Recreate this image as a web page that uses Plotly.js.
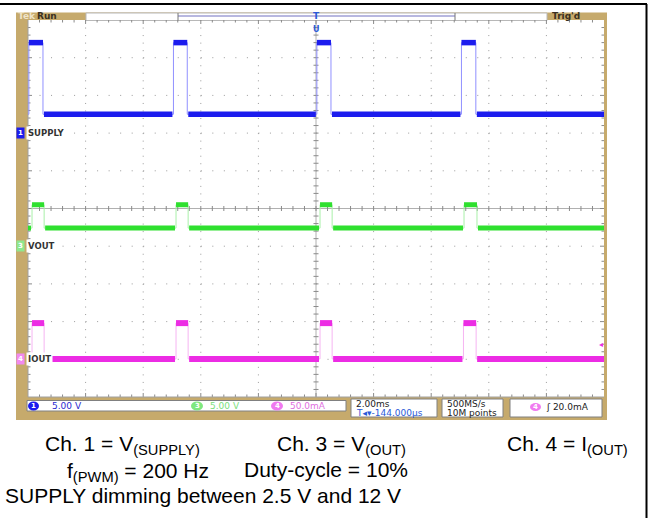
<!DOCTYPE html>
<html><head><meta charset="utf-8">
<script src="https://cdn.plot.ly/plotly-3.0.1.min.js"></script>
<style>html,body{margin:0;padding:0;background:#fff}#chart{width:650px;height:518px}</style>
</head><body><div id="chart"></div>
<script>
// ---------- data ----------
const timeRangeMs = [-10, 10];               // 2.00 ms/div, 10 divisions
const ch1RiseMs = [-9.97, -4.95, 0.03, 5.05];
const ch1FallMs = [-9.48, -4.47, 0.52, 5.55];
const ch1HighV = 12.0;
const ch1LowV = 2.5;
const ch3RiseMs = [-9.86, -4.86, 0.14, 5.14];
const ch3FallMs = [-9.44, -4.44, 0.56, 5.59];
const ch3HighV = 5.5;
const ch3LowV = 2.4;
const ch4RiseMs = [-9.86, -4.86, 0.14, 5.12];
const ch4FallMs = [-9.44, -4.44, 0.56, 5.56];
const ch4HighmA = 48;
const ch4LowmA = 0.5;
const channelNames = ['SUPPLY', 'VOUT', 'IOUT'];
const channelNums = ['1', '3', '4'];
const scaleTexts = ['5.00 V', '5.00 V', '50.0mA'];
const timebaseText = '2.00ms';
const delayText = 'T\u25C2\u25BE-144.000\u00B5s';
const sampleTexts = ['500MS/s', '10M points'];
const triggerText = '\u0283 20.0mA';
const captionLine1 = ['Ch. 1 = V<sub>(SUPPLY)</sub>', 'Ch. 3 = V<sub>(OUT)</sub>', 'Ch. 4 = I<sub>(OUT)</sub>'];
const captionLine2 = ['f<sub>(PWM)</sub> = 200 Hz', 'Duty-cycle = 10%'];
const captionLine3 = 'SUPPLY dimming between 2.5 V and 12 V';

// ---------- helpers ----------
const W = 650, H = 518;
const L = 28, R = 604, T = 20, B = 397;
const X = p => p / W, Y = p => 1 - p / H;
const divX = (R - L) / 10, divY = (B - T) / 10;
const GOLD = '#c6aa6c';
const C1 = '#1c1cee', C1e = '#9090ff';
const C3 = '#2fe02f', C3e = '#a8f0a8';
const C4 = '#ec2ce4', C4e = '#f6b4f2';

function edgePath(r, f, hi, lo) {
  const x = [timeRangeMs[0]], y = [lo];
  for (let i = 0; i < r.length; i++) {
    x.push(r[i], r[i], f[i], f[i]); y.push(lo, hi, hi, lo);
  }
  x.push(timeRangeMs[1]); y.push(lo);
  return {x, y};
}
function bandPath(r, f, hi, lo) {
  const g = 0.035;
  const x = [], y = [];
  let start = timeRangeMs[0];
  for (let i = 0; i < r.length; i++) {
    if (r[i] - g > start) { x.push(start, r[i] - g, null); y.push(lo, lo, null); }
    x.push(r[i], f[i], null); y.push(hi, hi, null);
    start = f[i] + g;
  }
  x.push(start, timeRangeMs[1]); y.push(lo, lo);
  return {x, y};
}
function mk(p, ya, color, width) {
  return {x: p.x, y: p.y, yaxis: ya, mode: 'lines', line: {color, width, shape: 'linear'}, hoverinfo: 'skip', showlegend: false, connectgaps: false};
}

const traces = [
  mk(edgePath(ch1RiseMs, ch1FallMs, ch1HighV, ch1LowV), 'y', C1e, 1),
  mk(bandPath(ch1RiseMs, ch1FallMs, ch1HighV, ch1LowV), 'y', C1, 5.5),
  mk(edgePath(ch3RiseMs, ch3FallMs, ch3HighV, ch3LowV), 'y2', C3e, 1),
  mk(bandPath(ch3RiseMs, ch3FallMs, ch3HighV, ch3LowV), 'y2', C3, 5),
  mk(edgePath(ch4RiseMs, ch4FallMs, ch4HighmA, ch4LowmA), 'y3', C4e, 1),
  mk(bandPath(ch4RiseMs, ch4FallMs, ch4HighmA, ch4LowmA), 'y3', C4, 6),
];

// ---------- shapes ----------
const shapes = [];
function line(x0, y0, x1, y1, color, width, dash) {
  shapes.push({type: 'line', xref: 'paper', yref: 'paper', x0: X(x0), y0: Y(y0), x1: X(x1), y1: Y(y1),
    line: {color, width, dash: dash || 'solid'}, layer: 'below'});
}
function rect(x0, y0, x1, y1, fill, lc, lw) {
  shapes.push({type: 'rect', xref: 'paper', yref: 'paper', x0: X(x0), y0: Y(y0), x1: X(x1), y1: Y(y1),
    fillcolor: fill, line: {color: lc || fill, width: lw || 0}, layer: 'below'});
}
function oval(x0, y0, x1, y1, fill) {
  shapes.push({type: 'circle', xref: 'paper', yref: 'paper', x0: X(x0), y0: Y(y0), x1: X(x1), y1: Y(y1),
    fillcolor: fill, line: {width: 0}, layer: 'above'});
}
// outer table border
line(0, 4, 647, 4, '#000', 2);
line(646.5, 4, 646.5, 518, '#000', 2);
// gold frame + white screen
rect(16, 12.5, 607, 420, GOLD);
rect(L, T, R, B, '#ffffff');
// header boxes
rect(86, 13, 547, 20.5, '#ffffff', '#b8b8b8', 1);
line(178, 16, 455, 16, '#7070c0', 1);
line(178, 13, 178, 20.5, '#777', 1);
line(455, 13, 455, 20.5, '#777', 1);
// dotted graticule
for (let k = 1; k < 10; k++) {
  if (k === 5) continue;
  const yy = T + k * divY, xx = L + k * divX;
  line(L, yy, R, yy, '#9a9a9a', 1, '1px,' + (divX / 5 - 1).toFixed(2) + 'px');
  line(xx, T, xx, B, '#9a9a9a', 1, '1px,' + (divY / 5 - 1).toFixed(2) + 'px');
}
// centre lines
const CX = L + 5 * divX, CY = T + 5 * divY;
line(L, CY, R, CY, '#b0b0b0', 1);
line(CX, T, CX, B, '#b0b0b0', 1);
// ticks
for (let i = 1; i < 50; i++) {
  const xx = L + i * divX / 5;
  const len = (i % 5 === 0) ? 4 : 2.5;
  line(xx, T, xx, T + len, '#8a8a8a', 1);
  line(xx, B - len, xx, B, '#8a8a8a', 1);
  line(xx, CY - 2.5, xx, CY + 2.5, '#8a8a8a', 1);
  const yy = T + i * divY / 5;
  line(L, yy, L + len, yy, '#8a8a8a', 1);
  line(R - len, yy, R, yy, '#8a8a8a', 1);
  line(CX - 2.5, yy, CX + 2.5, yy, '#8a8a8a', 1);
}
line(L, T, L, B, '#a0a0a0', 1);
line(L, B, R, B, '#a0a0a0', 1);
// status bar boxes
rect(27, 400.5, 346, 411, '#ffffff', '#808080', 1);
rect(351, 399, 437, 417, '#ffffff', '#808080', 1);
rect(442, 399, 503, 417, '#ffffff', '#808080', 1);
rect(510, 399, 602, 417, '#ffffff', '#808080', 1);
oval(28, 401.5, 39, 410.5, C1);
oval(191, 401.5, 203, 410.5, '#7fe87f');
oval(271, 401.5, 283, 410.5, '#f07af0');
oval(530, 403, 541, 411, '#f07af0');

// ---------- annotations ----------
const ann = [];
function txt(x, y, text, opt) {
  opt = opt || {};
  ann.push(Object.assign({xref: 'paper', yref: 'paper', x: X(x), y: Y(y), text, showarrow: false,
    xanchor: 'left', yanchor: 'middle', borderpad: 0,
    font: {family: 'DejaVu Sans', size: 8, color: '#222'}}, opt));
}
// header
txt(17, 16.5, '<b>Tek</b>', {font: {family: 'DejaVu Sans', size: 9, color: '#efe4c8'}});
txt(36, 16.5, '<b>Run</b>', {font: {family: 'DejaVu Sans', size: 9, color: '#3a3020'}});
txt(551, 16.5, '<b>Trig\'d</b>', {font: {family: 'DejaVu Sans', size: 9, color: '#3a3020'}});
txt(316.5, 16.5, '<b>T</b>', {xanchor: 'center', font: {family: 'DejaVu Sans', size: 9, color: '#2a5ad8'}});
txt(316.5, 29, '<b>U</b>', {xanchor: 'center', font: {family: 'DejaVu Sans', size: 8, color: '#2a5ad8'}});
// channel reference markers
const refY = [T + 3 * divY, T + 6 * divY, T + 9 * divY];
const tagCol = [C1, '#8fe88f', '#f28af0'];
for (let i = 0; i < 3; i++) {
  txt(15.5, refY[i], '<b>' + channelNums[i] + '</b>', {bgcolor: tagCol[i], borderpad: 1,
    font: {family: 'DejaVu Sans', size: 7, color: '#ffffff'}});
  txt(26, refY[i], '<b>' + channelNames[i] + '</b>', {bgcolor: '#ffffff', borderpad: 1,
    font: {family: 'DejaVu Sans', size: 8.5, color: '#333'}});
}
txt(601, T + 8.6 * divY, '\u25C2', {xanchor: 'center', font: {family: 'DejaVu Sans', size: 8, color: C4}});
// status bar
txt(33.5, 406, '<b>1</b>', {xanchor: 'center', font: {family: 'DejaVu Sans', size: 7, color: '#fff'}});
txt(197, 406, '<b>3</b>', {xanchor: 'center', font: {family: 'DejaVu Sans', size: 7, color: '#fff'}});
txt(277, 406, '<b>4</b>', {xanchor: 'center', font: {family: 'DejaVu Sans', size: 7, color: '#fff'}});
txt(535.5, 407, '<b>4</b>', {xanchor: 'center', font: {family: 'DejaVu Sans', size: 7, color: '#fff'}});
txt(51, 406, scaleTexts[0], {font: {family: 'DejaVu Sans', size: 9, color: '#2a2ad0'}});
txt(209, 406, scaleTexts[1], {font: {family: 'DejaVu Sans', size: 9, color: '#7be07b'}});
txt(289, 406, scaleTexts[2], {font: {family: 'DejaVu Sans', size: 9, color: '#e070e0'}});
txt(355, 403.5, timebaseText, {font: {family: 'DejaVu Sans', size: 9, color: '#222'}});
txt(355, 412.5, delayText, {font: {family: 'DejaVu Sans', size: 9, color: '#2a5ad8'}});
txt(446, 403.5, sampleTexts[0], {font: {family: 'DejaVu Sans', size: 9, color: '#222'}});
txt(446, 412.5, sampleTexts[1], {font: {family: 'DejaVu Sans', size: 9, color: '#222'}});
txt(545, 407, triggerText, {font: {family: 'DejaVu Sans', size: 9, color: '#222'}});
// caption
const capFont = {family: 'Liberation Sans, Arial, sans-serif', size: 21, color: '#000'};
txt(44, 444.5, captionLine1[0], {font: capFont});
txt(276, 444.5, captionLine1[1], {font: capFont});
txt(506, 444.5, captionLine1[2], {font: capFont});
txt(66, 472, captionLine2[0], {font: capFont});
txt(243, 469, captionLine2[1], {font: capFont});
txt(4, 495, captionLine3, {font: capFont});

const dom = [X(L), X(R)], ydom = [Y(B), Y(T)];
const hid = {visible: false, fixedrange: true, showgrid: false, zeroline: false};
const layout = {
  width: W, height: H, margin: {l: 0, r: 0, t: 0, b: 0},
  paper_bgcolor: '#ffffff', plot_bgcolor: 'rgba(0,0,0,0)', showlegend: false,
  xaxis: Object.assign({domain: dom, range: timeRangeMs}, hid),
  yaxis: Object.assign({domain: ydom, range: [-35, 15]}, hid),
  yaxis2: Object.assign({overlaying: 'y', range: [-20, 30]}, hid),
  yaxis3: Object.assign({overlaying: 'y', range: [-50, 450]}, hid),
  shapes, annotations: ann
};
Plotly.newPlot('chart', traces, layout, {staticPlot: true, displayModeBar: false});
</script></body></html>
